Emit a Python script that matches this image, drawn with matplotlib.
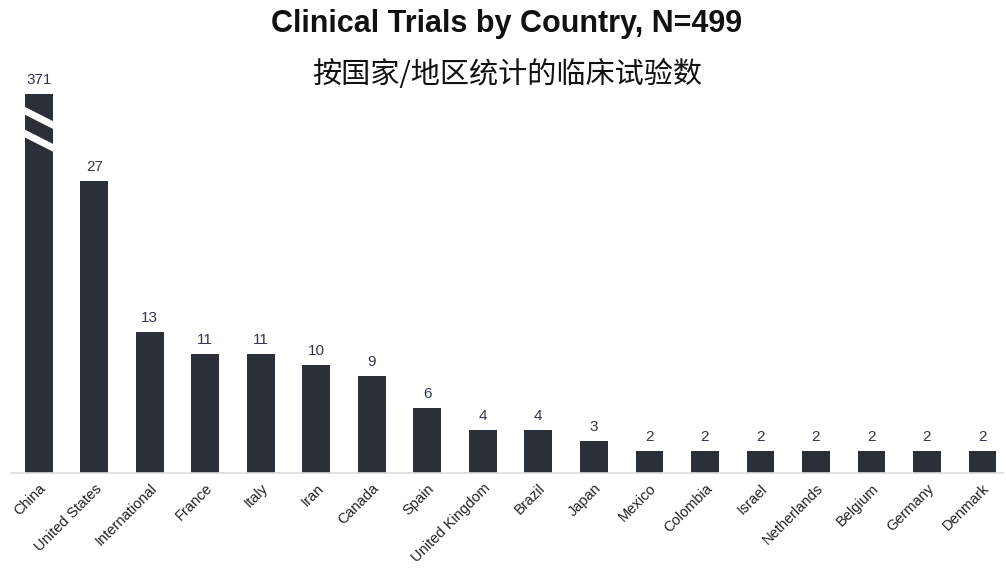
import matplotlib
matplotlib.use("Agg")
import matplotlib.pyplot as plt
from matplotlib.patches import Polygon

countries = ["China", "United States", "International", "France", "Italy", "Iran",
             "Canada", "Spain", "United Kingdom", "Brazil", "Japan", "Mexico",
             "Colombia", "Israel", "Netherlands", "Belgium", "Germany", "Denmark"]
trials = [371, 27, 13, 11, 11, 10, 9, 6, 4, 4, 3, 2, 2, 2, 2, 2, 2, 2]
display_cap = 35  # broken-axis height used for the outlier bar

title = "Clinical Trials by Country, N=499"
subtitle = "按国家/地区统计的临床试验数"

bar_color = "#2b3038"
label_color = "#2e3650"

fig = plt.figure(figsize=(10.06, 5.72), dpi=100)
ax = fig.add_axes([11/1006, (572-473)/572, (1003-11)/1006, (473-94)/572])

x = list(range(len(countries)))
heights = [min(v, display_cap) for v in trials]
bars = ax.bar(x, heights, width=0.5, color=bar_color, zorder=2)

ax.set_xlim(-0.5, len(countries) - 1 + 0.37)
ax.set_ylim(0, display_cap)

# value labels
for xi, h, v in zip(x, heights, trials):
    ax.annotate(str(v), (xi, h), xytext=(0, 5), textcoords="offset points",
                ha="center", va="bottom", fontsize=11, color=label_color,
                family=["Liberation Sans", "DejaVu Sans"])

# break marks on capped bars
for b, v in zip(bars, trials):
    if v > display_cap:
        x0, w = b.get_x(), b.get_width()
        top = b.get_height()
        for c in (top - 2.2, top - 4.3):
            th = 0.36
            drop = 0.7
            poly = Polygon([(x0 - 0.02, c + drop + th), (x0 + w + 0.02, c - drop + th),
                            (x0 + w + 0.02, c - drop - th), (x0 - 0.02, c + drop - th)],
                           closed=True, facecolor="white", edgecolor="none", zorder=3)
            ax.add_patch(poly)

for s in ["top", "right", "left"]:
    ax.spines[s].set_visible(False)
ax.spines["bottom"].set_color("#dddddd")
ax.spines["bottom"].set_linewidth(1.2)
ax.set_yticks([])
ax.set_xticks(x)
ax.set_xticklabels(countries, rotation=45, ha="right", rotation_mode="anchor",
                   fontsize=10.5, color="#222222", family=["Liberation Sans", "DejaVu Sans"])
ax.tick_params(axis="x", length=0, pad=6)

fig.text(0.504, 1 - 24/572, title, ha="center", va="center", fontsize=22,
         fontweight="bold", family=["Liberation Sans", "DejaVu Sans"], color="#111111")
fig.text(0.504, 1 - 75/572, subtitle, ha="center", va="center", fontsize=21,
         family=["Noto Sans CJK SC", "DejaVu Sans"], color="#111111")

fig.savefig("out.png", dpi=100)
